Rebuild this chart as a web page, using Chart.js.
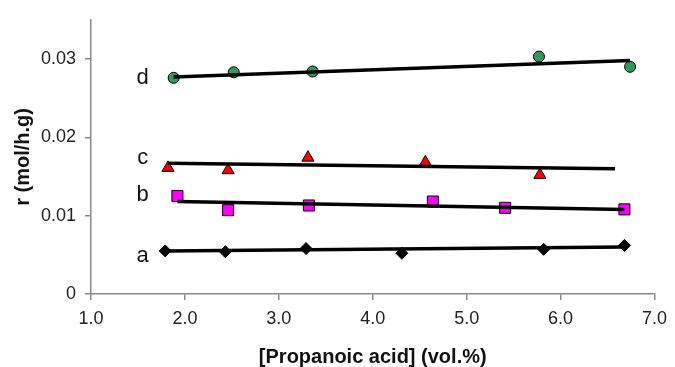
<!DOCTYPE html>
<html>
<head>
<meta charset="utf-8">
<script src="https://cdn.jsdelivr.net/npm/chart.js@4"></script>
<style>
  html, body { margin: 0; padding: 0; background: #fff; }
  #wrap { width: 675px; height: 367px; }
</style>
</head>
<body>
<div id="wrap"><canvas id="rateChart" width="675" height="367"></canvas></div>
<script>
// measured rates for each catalyst series
const aX = [1.79, 2.43, 3.29, 4.31, 5.82, 6.68];
const aY = [0.0055, 0.0054, 0.0058, 0.0052, 0.0057, 0.0062];
const bX = [1.92, 2.46, 3.32, 4.64, 5.41, 6.68];
const bY = [0.0125, 0.0107, 0.0113, 0.0118, 0.0110, 0.0108];
const cX = [1.82, 2.46, 3.31, 4.56, 5.78];
const cY = [0.0161, 0.0158, 0.0174, 0.0168, 0.0152];
const dX = [1.88, 2.52, 3.36, 5.77, 6.74];
const dY = [0.0276, 0.0283, 0.0284, 0.0303, 0.0290];

// linear fits (end points)
const fitAX = [1.79, 6.68], fitAY = [0.0055, 0.0060];
const fitBX = [1.92, 6.68], fitBY = [0.0118, 0.0108];
const fitCX = [1.82, 6.58], fitCY = [0.0167, 0.0160];
const fitDX = [1.88, 6.74], fitDY = [0.0277, 0.0298];

// series letters and where they sit
const letters = ['a', 'b', 'c', 'd'];
const letterX = [1.55, 1.55, 1.55, 1.55];
const letterY = [0.0049, 0.0126, 0.0174, 0.0276];

const xTicks = [1, 2, 3, 4, 5, 6, 7];
const yTicks = [0, 0.01, 0.02, 0.03];

const FONT = "'Liberation Sans', Arial, sans-serif";

const pts = (xs, ys) => xs.map((x, i) => ({ x: x, y: ys[i] }));

const fitLine = (xs, ys) => ({
  data: pts(xs, ys),
  showLine: true,
  borderColor: '#000',
  borderWidth: 3.5,
  pointRadius: 0,
  order: 0,
});

const marker = (xs, ys, style, fill, radius) => ({
  data: pts(xs, ys),
  showLine: false,
  pointStyle: style,
  pointRadius: radius,
  pointBackgroundColor: fill,
  pointBorderColor: '#000',
  pointBorderWidth: 1,
  order: 1,
});

const letterPlugin = {
  id: 'seriesLetters',
  afterDatasetsDraw(chart) {
    const { ctx, scales } = chart;
    ctx.save();
    ctx.font = '22px ' + FONT;
    ctx.fillStyle = '#111';
    ctx.textAlign = 'center';
    ctx.textBaseline = 'middle';
    letters.forEach((l, i) => {
      ctx.fillText(l, scales.x.getPixelForValue(letterX[i]), scales.y.getPixelForValue(letterY[i]));
    });
    ctx.restore();
  }
};

new Chart(document.getElementById('rateChart'), {
  type: 'scatter',
  data: {
    datasets: [
      fitLine(fitAX, fitAY),
      fitLine(fitBX, fitBY),
      fitLine(fitCX, fitCY),
      fitLine(fitDX, fitDY),
      marker(aX, aY, 'rectRot', '#000', 6),
      marker(bX, bY, 'rect', '#ff00ff', 7.8),
      marker(cX, cY, 'triangle', '#ff0000', 7),
      marker(dX, dY, 'circle', '#2e9a5e', 5.5),
    ]
  },
  options: {
    responsive: false,
    animation: false,
    layout: { padding: { left: 0, right: 14, top: 14, bottom: 0 } },
    plugins: {
      legend: { display: false },
      tooltip: { enabled: false },
    },
    scales: {
      x: {
        type: 'linear',
        min: 1,
        max: 7,
        afterBuildTicks: (s) => { s.ticks = xTicks.map(v => ({ value: v })); },
        afterFit: (s) => { s.height = 73; },
        border: { color: '#888', width: 1.5 },
        grid: { drawOnChartArea: false, color: '#888', tickLength: 6, lineWidth: 1.5 },
        ticks: {
          color: '#222',
          padding: 8,
          font: { family: FONT, size: 18 },
          callback: (v) => v.toFixed(1),
        },
        title: {
          display: true,
          text: '[Propanoic acid] (vol.%)',
          color: '#111',
          font: { family: FONT, size: 20, weight: 'bold', lineHeight: 1 },
          padding: { top: 0, bottom: 0 },
        },
      },
      y: {
        type: 'linear',
        min: 0,
        max: 0.035,
        afterBuildTicks: (s) => { s.ticks = yTicks.map(v => ({ value: v })); },
        afterFit: (s) => { s.width = 91; },
        border: { color: '#888', width: 1.5 },
        grid: { drawOnChartArea: false, color: '#888', tickLength: 6, lineWidth: 1.5 },
        ticks: {
          color: '#222',
          padding: 9,
          font: { family: FONT, size: 18 },
          callback: (v) => (v === 0 ? '0' : v.toFixed(2)),
        },
        title: {
          display: true,
          text: 'r (mol/h.g)',
          color: '#111',
          font: { family: FONT, size: 20, weight: 'bold', lineHeight: 1.2 },
          padding: { top: 11, bottom: 0 },
        },
      },
    },
  },
  plugins: [letterPlugin],
});
</script>
</body>
</html>
